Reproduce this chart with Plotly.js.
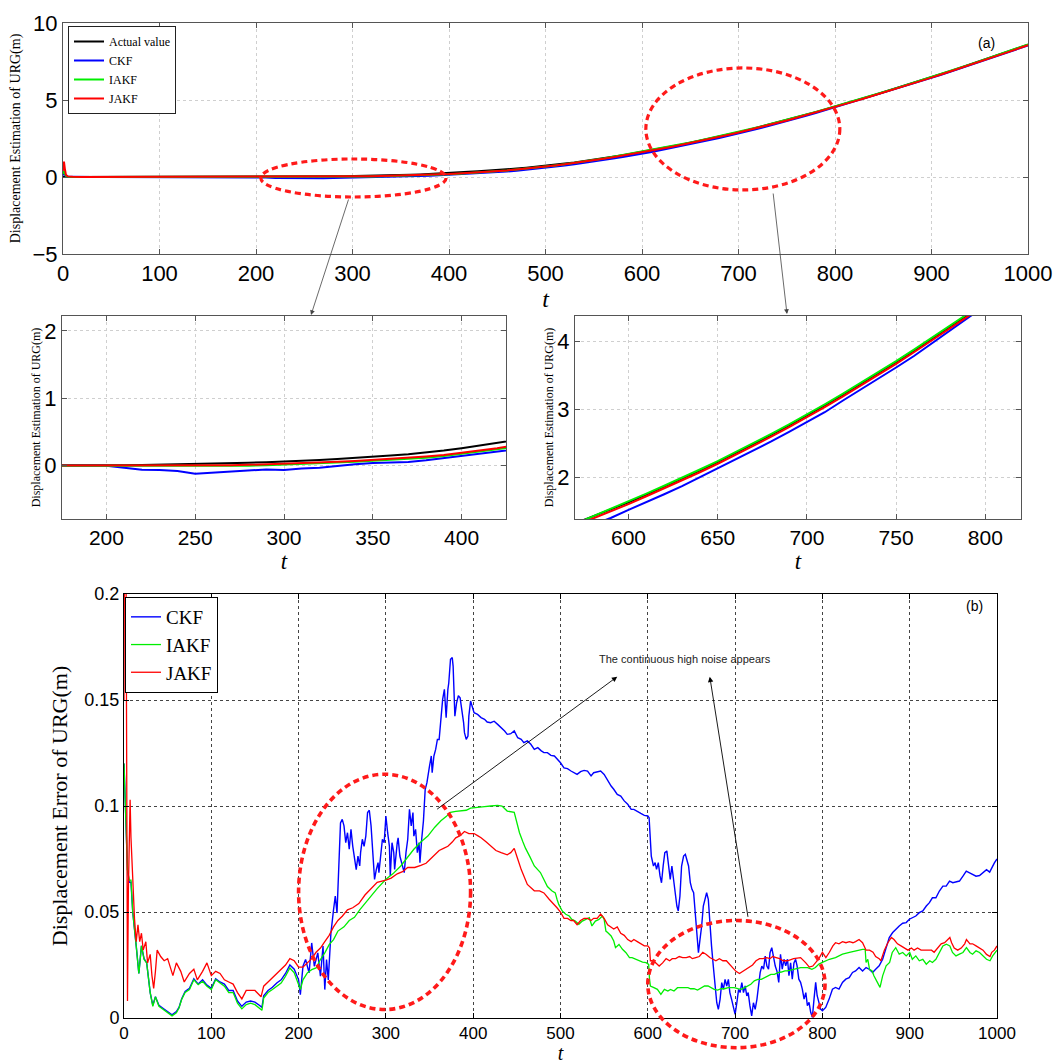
<!DOCTYPE html>
<html>
<head>
<meta charset="utf-8">
<script src="https://cdn.plot.ly/plotly-3.0.1.min.js"></script>
<style>html,body{margin:0;padding:0;background:#fff;}#chart{width:1063px;height:1064px;}</style>
</head>
<body>
<div id="chart"></div>
<script>
// ---------- (a) displacement estimation data ----------
const estT = [0,1,2,3,5,10,20,30,40,50,60,70,80,90,100,110,120,130,140,150,160,170,180,190,
200,210,220,230,240,250,260,270,280,290,300,310,320,330,340,350,360,370,380,390,400,410,420,430,440,450,460,470,480,490,
500,510,520,530,540,550,560,570,580,590,600,610,620,630,640,650,660,670,680,690,700,710,720,730,740,750,760,770,780,790,
800,810,820,830,840,850,860,870,880,890,900,910,920,930,940,950,960,970,980,990,1000];
const estActual = [0,0,0,0,0,0,0,0,0,0,0,0,0,0,0,0,0,0,0,0,0,0,0,0,
0.005,0.008,0.012,0.016,0.02,0.025,0.03,0.037,0.044,0.052,0.06,0.072,0.085,0.098,0.113,0.13,0.15,0.17,0.195,0.225,0.26,0.295,0.335,0.375,0.41,0.45,0.495,0.545,0.6,0.66,
0.725,0.795,0.87,0.95,1.035,1.125,1.22,1.32,1.42,1.525,1.63,1.745,1.86,1.975,2.1,2.225,2.355,2.49,2.625,2.765,2.91,3.06,3.215,3.375,3.535,3.7,3.87,4.04,4.215,4.39,
4.57,4.752,4.936,5.122,5.31,5.5,5.692,5.886,6.082,6.28,6.48,6.682,6.886,7.092,7.3,7.51,7.722,7.936,8.152,8.37,8.59];
const estCKF = [0.1,0.3,0.15,0.05,0.01,0,0,0,0,0,0,0,0,0,0,0,0,0,0,0,0,0,0,0,
0,-0.03,-0.06,-0.065,-0.08,-0.12,-0.105,-0.085,-0.068,-0.055,-0.062,-0.04,-0.03,-0.002,0.02,0.04,0.05,0.055,0.08,0.11,0.14,0.17,0.2,0.24,0.275,0.315,0.36,0.41,0.47,0.535,
0.6,0.67,0.745,0.825,0.91,1.0,1.1,1.2,1.3,1.4,1.52,1.63,1.75,1.87,2.0,2.13,2.27,2.4,2.53,2.67,2.82,2.96,3.13,3.29,3.45,3.62,3.79,3.97,4.15,4.34,
4.53,4.71,4.9,5.08,5.27,5.46,5.65,5.85,6.04,6.24,6.44,6.64,6.85,7.05,7.26,7.47,7.68,7.9,8.11,8.33,8.55];
const estIAKF = [0.2,0.4,0.2,0.08,0.02,0.005,0,0,0,0,0,0,0,0,0,0,0,0,0,0,0,0,0,0,
0,-0.002,-0.005,-0.008,-0.01,-0.01,-0.008,-0.005,0,0.007,0.015,0.025,0.035,0.045,0.058,0.072,0.087,0.103,0.12,0.145,0.175,0.21,0.245,0.28,0.315,0.365,0.425,0.482,0.54,0.605,
0.675,0.75,0.83,0.915,1.005,1.1,1.2,1.31,1.42,1.535,1.645,1.76,1.875,1.99,2.115,2.24,2.37,2.505,2.64,2.78,2.925,3.075,3.23,3.39,3.55,3.715,3.885,4.055,4.23,4.405,
4.585,4.767,4.951,5.137,5.325,5.515,5.707,5.901,6.097,6.295,6.495,6.697,6.901,7.107,7.315,7.525,7.737,7.951,8.167,8.385,8.605];
const estJAKF = [0.4,1.0,0.5,0.15,0.04,0.01,0,0,0,0,0,0,0,0,0,0,0,0,0,0,0,0,0,0,
0,0,0,0,0,0.002,0.004,0.008,0.013,0.02,0.03,0.038,0.047,0.058,0.07,0.085,0.1,0.118,0.138,0.16,0.19,0.225,0.26,0.3,0.335,0.375,0.43,0.485,0.54,0.605,
0.675,0.75,0.825,0.905,0.99,1.08,1.18,1.285,1.39,1.495,1.605,1.72,1.835,1.95,2.075,2.2,2.33,2.465,2.6,2.74,2.885,3.035,3.19,3.35,3.51,3.675,3.845,4.015,4.19,4.365,
4.545,4.727,4.911,5.097,5.285,5.475,5.667,5.861,6.057,6.255,6.455,6.657,6.861,7.067,7.275,7.485,7.697,7.911,8.127,8.345,8.565];

// ---------- (b) displacement error data ----------
const errT_CKF = [0,2,4,6,8,10,12,14,17,20,23,26,30,33,36,40,45,50,55,60,63,66,70,75,80,85,90,95,100,105,110,115,120,125,130,135,140,145,150,155,158,160,165,170,175,180,185,190,195,
200,202,205,208,212,215,218,220,222,225,228,230,232,234,237,240,242,244,246,248,250,252,254,256,258,260,262,264,266,268,270,271,273,275,277,279,281,283,285,287,289,291,292,294,296,298,
300,302,304,305,307,309,310,313,314,316,319,321,323,325,327,329,331,332,334,336,338,339,341,343,345,347,350,352,353,355,357,359,361,363,365,367,369,371,372,374,376,377,378,379,381,383,385,387,389,390,392,394,395,397,399,
401,405,409,413,416,420,424,428,432,436,439,443,447,451,455,458,462,466,470,474,478,481,485,489,493,497,
500,504,508,512,515,519,523,527,531,535,538,542,546,550,554,558,561,565,569,573,577,581,584,588,592,596,
600,601.5,603,604,606.5,608.4,610,612,614,615.7,617.6,619.5,621.8,623.7,625.7,627.6,629.5,631.4,633.3,634.9,636.8,638.7,641,643,644.8,646.7,648.7,650.6,652.5,654.4,656.3,658,659.8,661.7,663.6,665.5,667.4,669.3,671,673,675,677,679,680.8,682.8,684.7,686.6,688.5,690.4,692.3,694,696,698,
700,702,704,705.7,707.7,709.6,711.5,713.4,715,717,719,721,723,725,726.8,728.7,730.6,732.6,734.5,736.4,738.3,740,742,744,746,748,750,752,754,756,758,760,761.7,763.6,765.5,767.4,769.3,771,773,775,777,779,781,782.8,784.7,786.6,788.5,790.4,792.3,794,796,798,
800,803.8,807.7,811.5,815,819,823,826.8,830.7,834.5,838,842,846,850,853.6,857.5,861,865,869,872.8,876.6,880.5,884,888,892,896,899.6,
903.4,907,911,915,919,922.6,926,930,934,938,941.8,945.6,949.4,953,957,961,964.8,968.6,972.4,976,980,984,988,991.6,995.4,997,1000];
const errCKF = [0.12,0.09,0.07,0.064,0.064,0.05,0.04,0.034,0.021,0.034,0.028,0.026,0.012,0.006,0.01,0.006,0.0045,0.003,0.0015,0.003,0.005,0.009,0.0125,0.014,0.0185,0.016,0.018,0.0155,0.014,0.0185,0.017,0.016,0.013,0.013,0.008,0.0055,0.0075,0.008,0.0075,0.006,0.005,0.0105,0.013,0.0145,0.0165,0.018,0.021,0.025,0.023,
0.018,0.011,0.0244,0.0276,0.0213,0.0354,0.0244,0.0276,0.0307,0.0197,0.034,0.0134,0.0276,0.018,0.04,0.051,0.0575,0.0496,0.0748,0.092,0.0937,0.0906,0.0827,0.0874,0.0796,0.089,0.0811,0.0748,0.07,0.0764,0.0717,0.078,0.0843,0.081,0.0858,0.0969,0.098,0.0906,0.0748,0.0654,0.07,0.0733,0.0686,0.0764,0.0843,0.0827,
0.0953,0.0874,0.0811,0.067,0.0827,0.078,0.0701,0.0827,0.085,0.0764,0.0717,0.0686,0.078,0.0843,0.0984,0.0906,0.0969,0.0858,0.089,0.078,0.0827,0.0733,0.0843,0.093,0.1078,0.111,0.1189,0.1236,0.1157,0.1236,0.1267,0.1314,0.1314,0.1409,0.1503,0.155,0.1417,0.155,0.158,0.1692,0.17,0.166,0.1566,0.1424,0.1487,0.152,0.151,0.1456,0.1393,0.1346,0.1314,0.133,0.1424,0.1495,0.147,
0.144,0.1432,0.1417,0.1409,0.1396,0.1393,0.14,0.1385,0.137,0.1354,0.1338,0.1341,0.1354,0.1322,0.1314,0.1299,0.1307,0.1291,0.1267,0.1275,0.126,0.1252,0.1252,0.1239,0.1236,0.122,
0.1204,0.118,0.1176,0.1165,0.1157,0.1149,0.1162,0.1168,0.1165,0.1142,0.1157,0.116,0.1165,0.1149,0.1118,0.1094,0.1079,0.1055,0.1047,0.1024,0.1008,0.0984,0.0984,0.0976,0.0965,0.0956,
0.0953,0.0945,0.0796,0.0764,0.0717,0.0733,0.0701,0.0733,0.067,0.0638,0.0717,0.078,0.0788,0.0733,0.0654,0.0717,0.0654,0.0607,0.0528,0.0505,0.0575,0.0717,0.0764,0.0772,0.0748,0.0717,0.0638,0.0607,0.0591,0.0497,0.0434,0.0308,0.0371,0.0434,0.0528,0.056,0.0591,0.056,0.0434,0.034,0.0245,0.0167,0.0072,0.0041,0.0088,0.0167,0.0135,0.0182,0.0151,0.0182,0.012,0.0088,0.0057,
0.0017,0.0072,0.0135,0.012,0.0167,0.012,0.0151,0.0104,0.012,0.0057,0.001,0.0072,0.0041,0.0088,0.0151,0.0214,0.0245,0.023,0.0292,0.0245,0.023,0.0308,0.0332,0.0277,0.0245,0.022,0.0168,0.03,0.023,0.0277,0.0246,0.0277,0.02,0.026,0.0183,0.026,0.0277,0.0246,0.0183,0.0168,0.0136,0.0089,0.012,0.0058,0.0074,0.0027,0.0003,0.0089,0.0168,0.0105,0.0074,0.0042,
0.0034,0.005,0.0089,0.0136,0.0144,0.0136,0.0168,0.0183,0.019,0.0215,0.0222,0.0238,0.0222,0.0238,0.023,0.0215,0.023,0.0246,0.0277,0.0324,0.0379,0.0403,0.0418,0.0434,0.0447,0.045,0.0466,
0.0473,0.0481,0.0497,0.0505,0.0528,0.0544,0.0567,0.0567,0.0599,0.0622,0.0622,0.0646,0.0638,0.0641,0.0646,0.0669,0.0693,0.0685,0.0677,0.0669,0.0672,0.0685,0.07,0.0688,0.0724,0.0732,0.075];

const errT_IAKF = [0,2,4,6,8,10,12,14,17,20,23,26,30,33,36,40,45,50,55,60,63,66,70,75,80,85,90,95,100,105,110,115,120,125,130,135,140,145,150,155,158,160,165,170,175,180,185,190,195,
200,202,205,210,215,220,225,230,235,240,245,252,258,264,270,276,283,290,300,308,317,325,332,340,348,356,363,369,374,380,386,392,397,405,413,420,428,433,439,447,450,453,457,460,465,470,477,481,485,490,494,496,498,
502,506,510,513,517,521,525,529,533,536,540,544,548,550,552,554,558,561,563,567,571,575,579,582,586,590,594,598,601,602,603,607,611,615,619,623,626,630,634,638,642,646,649,653,657,661,665,669,672,676,680,684,688,692,695,699,
703,707,711,715,718,722,726,730,734,738,741,745,749,753,757,760,767,775,783,788,792,796,800,808,815,823,831,838,846,849,850,852,854,857,859,863,866,869,873,877,880,884,888,892,896,900,
903,907,911,915,919,923,926,930,934,938,942,946,949,953,957,961,965,969,972,976,980,984,988,992,995,1000];
const errIAKF = [0.12,0.09,0.07,0.065,0.065,0.05,0.04,0.034,0.021,0.034,0.0276,0.026,0.012,0.0055,0.01,0.0055,0.004,0.0024,0.001,0.0024,0.0047,0.0087,0.012,0.0134,0.018,0.0157,0.0173,0.015,0.0134,0.018,0.0165,0.015,0.012,0.012,0.007,0.0043,0.0063,0.007,0.0063,0.0047,0.0036,0.0094,0.012,0.0134,0.015,0.0165,0.0197,0.0236,0.0213,
0.015,0.0134,0.018,0.0213,0.0228,0.0236,0.0276,0.0307,0.0346,0.037,0.041,0.043,0.046,0.0475,0.051,0.054,0.0575,0.061,0.0654,0.068,0.0717,0.076,0.0796,0.083,0.0858,0.09,0.093,0.095,0.097,0.0975,0.0976,0.098,0.099,0.0995,0.0997,0.1,0.1003,0.1,0.0976,0.097,0.092,0.0874,0.083,0.08,0.076,0.0717,0.0686,0.065,0.062,0.06,0.059,0.056,0.0536,
0.0505,0.0489,0.0481,0.0465,0.0457,0.0442,0.0457,0.0465,0.0473,0.0434,0.0457,0.0465,0.0481,0.0465,0.041,0.0403,0.0387,0.0363,0.0332,0.0347,0.0324,0.0308,0.0285,0.0285,0.0277,0.0269,0.0264,0.0261,0.0253,0.0182,0.0151,0.0143,0.0135,0.0112,0.0135,0.0127,0.0135,0.0127,0.0143,0.0143,0.0143,0.0143,0.0138,0.0138,0.0132,0.0143,0.0151,0.0151,0.0143,0.0135,0.0132,0.0138,0.0138,0.0143,0.0143,0.0143,
0.0138,0.0135,0.0143,0.0151,0.0159,0.0175,0.0182,0.0182,0.019,0.0198,0.0206,0.0206,0.0214,0.0217,0.0222,0.0222,0.023,0.0238,0.0238,0.023,0.0238,0.0254,0.0262,0.0277,0.0285,0.0301,0.0309,0.0317,0.0324,0.0324,0.0262,0.0277,0.023,0.0222,0.0199,0.0168,0.0144,0.0199,0.0246,0.0262,0.0309,0.0332,0.0301,0.0309,0.0293,0.0309,
0.0277,0.0293,0.027,0.0277,0.0254,0.027,0.0262,0.0277,0.0309,0.034,0.0348,0.034,0.0309,0.0293,0.0301,0.0309,0.0332,0.0309,0.0301,0.0317,0.0309,0.0293,0.0277,0.027,0.0293,0.032];

const errT_JAKF = [0,1,2,3,4,5,6,7,8,10,12,14,16,18,20,22,25,27,30,32,34,36,38,42,46,50,53,56,60,65,69,75,80,84,90,95,100,105,110,115,120,125,130,135,140,145,150,157,160,165,170,175,180,185,190,195,
200,205,210,215,220,225,230,235,240,245,250,256,262,269,276,283,290,300,306,313,319,325,333,340,346,351,356,361,366,371,376,380,385,390,395,401,405,409,415,420,426,432,439,443,447,451,455,462,470,476,481,487,492,496,
500,504,508,512,515,519,523,527,531,535,538,542,546,550,554,558,561,565,569,573,577,581,584,588,592,596,600,602,603,605,609,613,617,621,625,628,632,636,640,644,648,651,655,659,663,667,671,674,678,682,686,690,694,697,
701,705,709,713,717,720,724,728,732,736,740,743,747,751,755,760,767,775,781,785,789,792,796,800,804,808,812,815,819,823,827,831,835,838,842,846,850,854,858,861,865,867,871,875,879,882,886,890,894,898,
902,905,909,913,917,921,925,928,932,936,940,944,946,948,951,955,959,963,965,969,972,976,980,984,988,992,994,997,1000];
const errJAKF = [0.15,0.3,0.25,0.09,0.008,0.06,0.09,0.103,0.085,0.062,0.047,0.036,0.044,0.036,0.04,0.032,0.036,0.026,0.03,0.02,0.014,0.022,0.032,0.029,0.027,0.028,0.024,0.02,0.026,0.022,0.017,0.021,0.023,0.018,0.022,0.026,0.02,0.022,0.021,0.018,0.017,0.016,0.012,0.009,0.013,0.013,0.013,0.01,0.015,0.017,0.019,0.021,0.023,0.025,0.028,0.027,
0.024,0.024,0.026,0.028,0.031,0.033,0.036,0.039,0.043,0.046,0.048,0.051,0.052,0.054,0.058,0.061,0.064,0.065,0.066,0.068,0.069,0.071,0.071,0.072,0.073,0.075,0.077,0.079,0.08,0.081,0.083,0.085,0.086,0.088,0.087,0.087,0.086,0.085,0.083,0.081,0.079,0.078,0.077,0.078,0.08,0.075,0.07,0.063,0.06,0.06,0.059,0.056,0.054,0.052,
0.05,0.047,0.047,0.046,0.046,0.044,0.046,0.047,0.047,0.046,0.047,0.047,0.049,0.047,0.044,0.043,0.042,0.043,0.04,0.039,0.037,0.036,0.037,0.036,0.035,0.034,0.034,0.033,0.027,0.027,0.026,0.0245,0.026,0.028,0.027,0.028,0.028,0.029,0.0285,0.0285,0.029,0.028,0.0285,0.029,0.031,0.03,0.0285,0.028,0.027,0.028,0.027,0.027,0.025,0.024,
0.022,0.021,0.022,0.023,0.024,0.025,0.027,0.028,0.028,0.0285,0.028,0.029,0.0285,0.028,0.027,0.027,0.028,0.0285,0.026,0.024,0.0245,0.026,0.028,0.031,0.0285,0.031,0.034,0.0355,0.035,0.036,0.0355,0.036,0.0355,0.036,0.037,0.0355,0.032,0.032,0.031,0.029,0.028,0.027,0.032,0.0355,0.038,0.037,0.035,0.034,0.033,0.032,
0.033,0.032,0.033,0.032,0.032,0.032,0.032,0.031,0.033,0.035,0.0355,0.037,0.038,0.0355,0.033,0.032,0.033,0.035,0.037,0.035,0.035,0.034,0.033,0.032,0.03,0.029,0.031,0.032,0.034];

// ---------- layout helpers (positions in px of the 1063x1064 page) ----------
const W = 1063, H = 1064;
const xd = (a, b) => [a / W, b / W];
const yd = (top, bottom) => [1 - bottom / H, 1 - top / H];

const tickFont = (s) => ({family: 'Liberation Sans, Arial, sans-serif', size: s, color: '#000'});
const serif = 'Liberation Serif, Times New Roman, serif';

function axisBase(gridColor, lineColor, fs) {
  return {
    showline: true, linecolor: lineColor, linewidth: 1, mirror: 'ticks',
    ticks: 'inside', ticklen: 5, tickcolor: lineColor,
    showgrid: true, gridcolor: gridColor, griddash: 'dot', gridwidth: 1,
    zeroline: false, tickfont: tickFont(fs), automargin: false, fixedrange: true
  };
}
const tTitle = (s, so) => ({text: 't', font: {family: serif, size: s, color: '#000', style: 'italic'}, standoff: so});

const layout = {
  width: W, height: H,
  margin: {l: 0, r: 0, t: 0, b: 0},
  paper_bgcolor: '#fff', plot_bgcolor: '#fff',
  showlegend: true,
  xaxis: Object.assign(axisBase('#cfcfcf', '#555', 22), {domain: xd(63, 1028), range: [0, 1000], dtick: 100, anchor: 'y', title: tTitle(24, 2)}),
  yaxis: Object.assign(axisBase('#cfcfcf', '#555', 22), {domain: yd(23, 254), range: [-5, 10], dtick: 5, anchor: 'x',
    title: {text: 'Displacement Estimation of URG(m)', font: {family: serif, size: 14, color: '#000'}, standoff: 8}}),
  xaxis2: Object.assign(axisBase('#cfcfcf', '#555', 21), {domain: xd(62, 506), range: [175, 425], dtick: 50, anchor: 'y2', title: tTitle(23, 0)}),
  yaxis2: Object.assign(axisBase('#cfcfcf', '#555', 22), {domain: yd(316, 519), range: [-0.79, 2.22], dtick: 1, anchor: 'x2',
    title: {text: 'Displacement Estimation of URG(m)', font: {family: serif, size: 12, color: '#000'}, standoff: 1}}),
  xaxis3: Object.assign(axisBase('#cfcfcf', '#555', 21), {domain: xd(575, 1021), range: [570, 820], dtick: 50, anchor: 'y3', title: tTitle(23, 0)}),
  yaxis3: Object.assign(axisBase('#cfcfcf', '#555', 22), {domain: yd(316, 519), range: [1.385, 4.38], dtick: 1, anchor: 'x3',
    title: {text: 'Displacement Estimation of URG(m)', font: {family: serif, size: 12, color: '#000'}, standoff: 1}}),
  xaxis4: Object.assign(axisBase('#444', '#000', 17), {domain: xd(124, 997), range: [0, 1000], dtick: 100, anchor: 'y4', title: tTitle(20, 10)}),
  yaxis4: Object.assign(axisBase('#444', '#000', 18), {domain: yd(594, 1018), range: [0, 0.2], dtick: 0.05, anchor: 'x4',
    title: {text: 'Displacement Error of URG(m)', font: {family: serif, size: 22, color: '#000'}, standoff: 10}}),
  legend: {x: 68 / W, y: 1 - 26 / H, xanchor: 'left', yanchor: 'top', bgcolor: '#fff', bordercolor: '#222', borderwidth: 1,
    font: {family: serif, size: 12, color: '#000'}, itemwidth: 30, tracegroupgap: 0},
  legend2: {x: 125 / W, y: 1 - 597 / H, xanchor: 'left', yanchor: 'top', bgcolor: '#fff', bordercolor: '#000', borderwidth: 1,
    font: {family: serif, size: 19, color: '#000'}, itemwidth: 30, tracegroupgap: 0},
  annotations: [], shapes: []
};

// data->paper conversion for overlay ellipses / arrows
function px(axName, v) { const a = layout[axName]; return a.domain[0] + (v - a.range[0]) / (a.range[1] - a.range[0]) * (a.domain[1] - a.domain[0]); }
function ellipse(xa, ya, x0, x1, y0, y1, w, dash) {
  return {type: 'circle', xref: 'paper', yref: 'paper', x0: px(xa, x0), x1: px(xa, x1), y0: px(ya, y0), y1: px(ya, y1),
    line: {color: '#ff1a1a', width: w, dash: dash}, layer: 'above'};
}
layout.shapes.push(ellipse('xaxis', 'yaxis', 205, 397, -1.3, 1.17, 3.2, '6px,4px'));
layout.shapes.push(ellipse('xaxis', 'yaxis', 604, 805, -0.84, 7.08, 3.2, '6px,4px'));
layout.shapes.push(ellipse('xaxis4', 'yaxis4', 200, 397, 0.004, 0.115, 3.6, '6px,4px'));
layout.shapes.push(ellipse('xaxis4', 'yaxis4', 600, 803, -0.014, 0.046, 3.6, '6px,4px'));

function arrow(xa, ya, hx, hy, tx, ty, color) {
  const X = px(xa, hx) * W, Y = (1 - px(ya, hy)) * H;
  const TX = px(xa, tx) * W, TY = (1 - px(ya, ty)) * H;
  return {xref: 'paper', yref: 'paper', x: X / W, y: 1 - Y / H, ax: TX - X, ay: TY - Y, text: '', showarrow: true,
    arrowhead: 2, arrowsize: 1.2, arrowwidth: 0.9, arrowcolor: color};
}
// zoom arrows from (a) to the insets (tail on ellipse, head at inset top)
layout.annotations.push({xref: 'paper', yref: 'paper', x: 311 / W, y: 1 - 315 / H, ax: 38, ay: -117, text: '', showarrow: true, arrowhead: 2, arrowsize: 1.2, arrowwidth: 0.8, arrowcolor: '#444'});
layout.annotations.push({xref: 'paper', yref: 'paper', x: 787 / W, y: 1 - 314 / H, ax: -14, ay: -122, text: '', showarrow: true, arrowhead: 2, arrowsize: 1.2, arrowwidth: 0.8, arrowcolor: '#444'});
// (b) arrows
layout.annotations.push(arrow('xaxis4', 'yaxis4', 565, 0.161, 357, 0.098, '#000'));
layout.annotations.push(arrow('xaxis4', 'yaxis4', 671, 0.161, 715, 0.047, '#000'));
layout.annotations.push({xref: 'x4', yref: 'y4', x: 643, y: 0.1695, text: 'The continuous high noise appears', showarrow: false,
  font: {family: 'Liberation Sans, Arial, sans-serif', size: 11, color: '#222'}});
layout.annotations.push({xref: 'paper', yref: 'paper', x: 997 / W, y: 1 - 33 / H, text: '(a)', showarrow: false,
  font: {family: 'Liberation Sans, Arial, sans-serif', size: 14, color: '#000'}});
layout.annotations.push({xref: 'paper', yref: 'paper', x: 985 / W, y: 1 - 606 / H, text: '(b)', showarrow: false,
  font: {family: 'Liberation Sans, Arial, sans-serif', size: 14, color: '#000'}});

// ---------- traces ----------
const series = [
  {name: 'Actual value', y: estActual, color: '#000000'},
  {name: 'CKF', y: estCKF, color: '#0000ff'},
  {name: 'IAKF', y: estIAKF, color: '#00ee00'},
  {name: 'JAKF', y: estJAKF, color: '#ff0000'}
];
const traces = [];
[['x', 'y', true], ['x2', 'y2', false], ['x3', 'y3', false]].forEach(([xa, ya, leg]) => {
  series.forEach(s => traces.push({type: 'scatter', mode: 'lines', x: estT, y: s.y, name: s.name, xaxis: xa, yaxis: ya,
    line: {color: s.color, width: 2}, showlegend: leg, legend: 'legend', hoverinfo: 'skip'}));
});
traces.push({type: 'scatter', mode: 'lines', x: errT_CKF, y: errCKF, name: 'CKF', xaxis: 'x4', yaxis: 'y4', line: {color: '#0000ff', width: 1.4}, legend: 'legend2', hoverinfo: 'skip'});
traces.push({type: 'scatter', mode: 'lines', x: errT_IAKF, y: errIAKF, name: 'IAKF', xaxis: 'x4', yaxis: 'y4', line: {color: '#00ee00', width: 1.3}, legend: 'legend2', hoverinfo: 'skip'});
traces.push({type: 'scatter', mode: 'lines', x: errT_JAKF, y: errJAKF, name: 'JAKF', xaxis: 'x4', yaxis: 'y4', line: {color: '#ff0000', width: 1.3}, legend: 'legend2', hoverinfo: 'skip'});

Plotly.newPlot('chart', traces, layout, {staticPlot: true, displayModeBar: false});
</script>
</body>
</html>
